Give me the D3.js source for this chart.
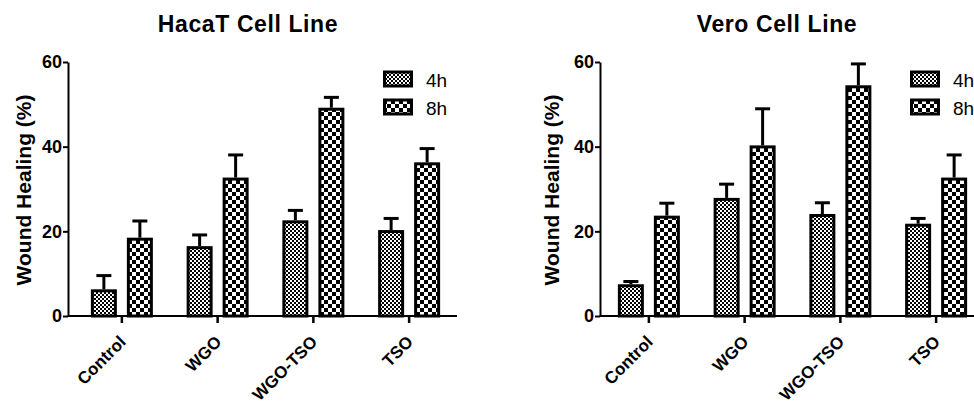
<!DOCTYPE html>
<html>
<head>
<meta charset="utf-8">
<script src="https://cdn.jsdelivr.net/npm/d3@7"></script>
<style>
  body { margin: 0; background: #fff; }
  svg { display: block; font-family: Arial, "Liberation Sans", sans-serif; }
</style>
</head>
<body>
<script>
// data
const categories = ["Control", "WGO", "WGO-TSO", "TSO"];
const seriesNames = ["4h", "8h"];
const yTicks = [0, 20, 40, 60];

const hacat4h = [6.3, 16.5, 22.6, 20.3];
const hacat4hErr = [3.6, 3.0, 2.7, 3.1];
const hacat8h = [18.5, 32.7, 49.2, 36.3];
const hacat8hErr = [4.3, 5.7, 2.8, 3.6];

const vero4h = [7.5, 27.9, 24.1, 21.8];
const vero4hErr = [1.0, 3.6, 3.0, 1.6];
const vero8h = [23.7, 40.3, 54.5, 32.7];
const vero8hErr = [3.3, 9.0, 5.4, 5.7];

const width = 974, height = 407;
const FONT = "Arial, 'Liberation Sans', sans-serif";

const svg = d3.select("body").append("svg")
    .attr("width", width)
    .attr("height", height);

// patterns: fine checker for 4h, coarse checker for 8h
const defs = svg.append("defs");
function checker(id, s) {
    const p = defs.append("pattern")
        .attr("id", id)
        .attr("patternUnits", "userSpaceOnUse")
        .attr("width", s * 2).attr("height", s * 2);
    p.append("rect").attr("width", s * 2).attr("height", s * 2).attr("fill", "#fff");
    p.append("rect").attr("width", s).attr("height", s).attr("fill", "#000");
    p.append("rect").attr("x", s).attr("y", s).attr("width", s).attr("height", s).attr("fill", "#000");
}
checker("pat4h", 2);
checker("pat8h", 4);
const fills = { "4h": "url(#pat4h)", "8h": "url(#pat8h)" };

const y = d3.scaleLinear().domain([0, 60]).range([316, 62]);

const panels = [
    { title: "HacaT Cell Line", titleX: 248, axisX: 68, range: [74, 457], labelX: 31, legendX: 383,
      s4: hacat4h, e4: hacat4hErr, s8: hacat8h, e8: hacat8hErr },
    { title: "Vero Cell Line", titleX: 777, axisX: 600, range: [601, 984], labelX: 559, legendX: 910,
      s4: vero4h, e4: vero4hErr, s8: vero8h, e8: vero8hErr }
];

panels.forEach(function(p) {
    const g = svg.append("g");

    const x0 = d3.scaleBand().domain(categories).range(p.range);
    const x1 = d3.scaleBand().domain(seriesNames).range([-31, 31]).paddingInner(0.2778);

    const rows = [];
    categories.forEach(function(c, i) {
        rows.push({ cat: c, key: "4h", v: p.s4[i], e: p.e4[i] });
        rows.push({ cat: c, key: "8h", v: p.s8[i], e: p.e8[i] });
    });
    const cx = d => x0(d.cat) + x0.bandwidth() / 2 + x1(d.key);

    // error bars (upper only)
    g.selectAll(".err").data(rows).enter().append("line")
        .attr("x1", d => cx(d) + x1.bandwidth() / 2)
        .attr("x2", d => cx(d) + x1.bandwidth() / 2)
        .attr("y1", d => y(d.v))
        .attr("y2", d => y(d.v + d.e) + 1.5)
        .attr("stroke", "#000").attr("stroke-width", 3);
    g.selectAll(".cap").data(rows).enter().append("line")
        .attr("x1", d => cx(d) + x1.bandwidth() / 2 - 7.5)
        .attr("x2", d => cx(d) + x1.bandwidth() / 2 + 7.5)
        .attr("y1", d => y(d.v + d.e) + 1.5)
        .attr("y2", d => y(d.v + d.e) + 1.5)
        .attr("stroke", "#000").attr("stroke-width", 3);

    // bars
    g.selectAll(".bar").data(rows).enter().append("rect")
        .attr("x", d => cx(d) + 1.5)
        .attr("y", d => y(d.v) + 1.5)
        .attr("width", x1.bandwidth() - 3)
        .attr("height", d => y(0) - y(d.v) - 1.5)
        .attr("fill", d => fills[d.key])
        .attr("stroke", "#000").attr("stroke-width", 3);

    // y axis
    const yAxis = g.append("g")
        .attr("transform", `translate(${p.axisX},0)`)
        .call(d3.axisLeft(y).tickValues(yTicks).tickSize(5).tickPadding(1).tickSizeOuter(0));
    yAxis.attr("font-size", null).attr("font-family", null);
    yAxis.select(".domain").attr("stroke-width", 2);
    yAxis.selectAll(".tick line").attr("stroke-width", 2);
    yAxis.selectAll("text")
        .style("font-size", "18px").style("font-weight", "bold").style("font-family", FONT)
        .attr("fill", "#000");

    // x axis
    const xAxis = g.append("g")
        .attr("transform", `translate(0,${y(0)})`)
        .call(d3.axisBottom(x0).tickSize(7).tickSizeOuter(0));
    xAxis.attr("font-size", null).attr("font-family", null);
    xAxis.select(".domain").attr("d", `M${p.axisX},0H${p.range[1]}`).attr("stroke-width", 2);
    xAxis.selectAll(".tick line").attr("stroke-width", 2.5);
    xAxis.selectAll("text")
        .style("font-size", "17px").style("font-weight", "bold").style("font-family", FONT)
        .attr("fill", "#000")
        .attr("text-anchor", "end")
        .attr("x", 0).attr("y", 0).attr("dy", null)
        .attr("transform", "translate(5,27) rotate(-45)");

    // title
    g.append("text")
        .attr("x", p.titleX).attr("y", 32)
        .attr("text-anchor", "middle")
        .style("font-size", "23px").style("font-weight", "bold")
        .style("letter-spacing", "0.6px")
        .text(p.title);

    // y label
    g.append("text")
        .attr("transform", `translate(${p.labelX},190) rotate(-90)`)
        .attr("text-anchor", "middle")
        .style("font-size", "21px").style("font-weight", "bold")
        .text("Wound Healing (%)");

    // legend
    const leg = g.selectAll(".leg").data(seriesNames).enter().append("g")
        .attr("transform", (d, i) => `translate(${p.legendX},${72 + i * 28})`);
    leg.append("rect")
        .attr("x", 1.5).attr("y", 0)
        .attr("width", 27).attr("height", 14)
        .attr("fill", d => fills[d])
        .attr("stroke", "#000").attr("stroke-width", 3);
    leg.append("text")
        .attr("x", 43).attr("y", 15)
        .style("font-size", "19px")
        .text(d => d);
});
</script>
</body>
</html>
